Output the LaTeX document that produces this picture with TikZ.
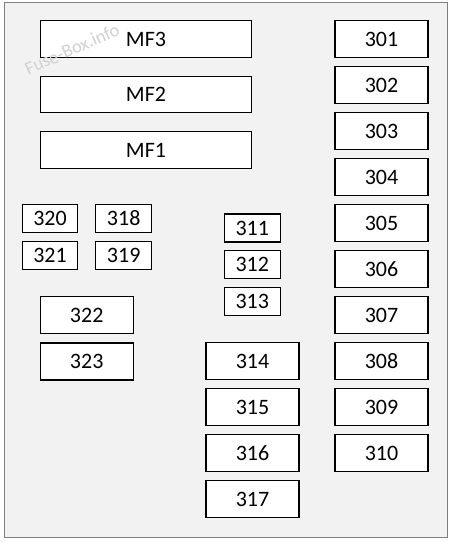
\documentclass[tikz,border=0pt]{standalone}
\usepackage{fontspec}
\setmainfont{Carlito}
\usepackage{tikz}
\usetikzlibrary{positioning}
\definecolor{panelgray}{HTML}{F2F2F2}
\definecolor{framegray}{HTML}{7F7F7F}
\definecolor{markgray}{HTML}{D0D0D0}

\begin{document}
\begin{tikzpicture} [
      x = 1pt, y = -1pt,
      inner sep = 0, outer sep = 0,
      fuse/.style = { draw = black, fill = white, line width = 1.1pt, font = \fontsize{22}{22}\selectfont },
      big/.style = { fuse, minimum width = 93pt, minimum height = 37pt },
      small/.style = { fuse, minimum width = 56pt, minimum height = 28pt },
      wide/.style = { fuse, minimum width = 211pt, minimum height = 36.5pt }
      ]

      \useasboundingbox (0,0) rectangle (450,542);
      \draw [framegray, fill = panelgray, line width = 1pt] (4,2) rectangle (447,537);

      % main fuses
      \node [wide] (mf3) at (146,39) {MF3};
      \node [wide] (mf2) at (146,94.5) {MF2};
      \node [wide] (mf1) at (146,150) {MF1};

      % right column
      \foreach \n [count = \i from 0] in {301,...,310}
        \node [big] (f\n) at (381.5, 39.2 + 46*\i) {\n};

      % middle column
      \node [small] (f311) at (252.3,228) {311};
      \node [small] (f312) at (252.3,264.7) {312};
      \node [small] (f313) at (252.3,301.5) {313};
      \foreach \n [count = \i from 0] in {314,...,317}
        \node [big] (f\n) at (252.5, 361.3 + 46*\i) {\n};

      % left group
      \node [small, minimum width = 55pt] (f320) at (50,218.5) {320};
      \node [small, minimum width = 55pt] (f321) at (50,255.5) {321};
      \node [small] (f318) at (123.7,218.5) {318};
      \node [small] (f319) at (123.7,255.5) {319};
      \node [big] (f322) at (86.7,315.2) {322};
      \node [big] (f323) at (86.7,361.5) {323};

      \node [markgray, rotate = 24, font = \fontsize{18.5}{18.5}\selectfont] (mark) at (72,49) {Fuse-Box.info};
    \end{tikzpicture}
\end{document}
